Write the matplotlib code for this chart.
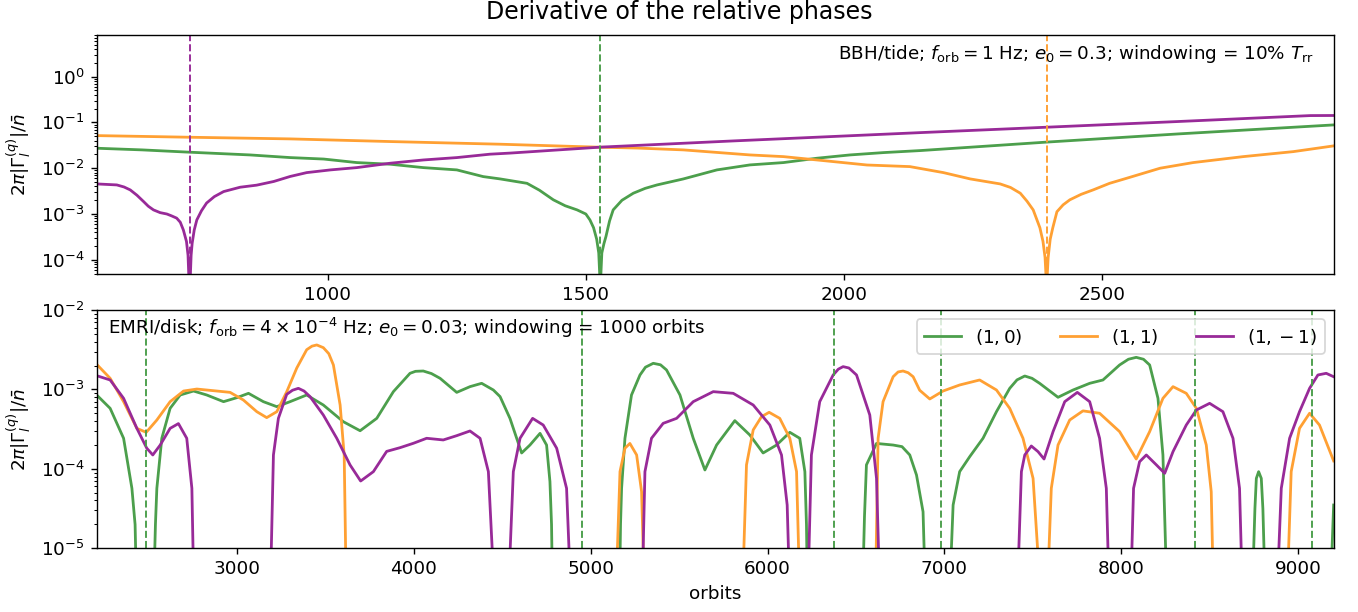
import numpy as np
import matplotlib
matplotlib.use("Agg")
import matplotlib.pyplot as plt

# ---------------- data (log10 of 2*pi*|Gamma|/n) ----------------
# Top panel: BBH/tide
top_green_x = [552, 640, 733, 849, 927, 992, 1056, 1121, 1185, 1250, 1301, 1334, 1386, 1410, 1437, 1460,
               1483, 1500, 1508, 1515, 1521, 1525, 1528, 1531, 1535, 1539, 1546, 1553, 1570, 1592, 1615,
               1638, 1689, 1754, 1818, 1883, 1948, 2012, 2077, 2148, 2393, 2650, 2949]
top_green_logy = [-1.564, -1.60, -1.651, -1.71, -1.768, -1.80, -1.877, -1.913, -1.987, -2.037, -2.183, -2.234,
                  -2.33, -2.48, -2.69, -2.82, -2.91, -3.0, -3.13, -3.3, -3.55, -3.85, -4.6, -3.85, -3.65,
                  -3.49, -3.15, -2.91, -2.70, -2.546, -2.44, -2.365, -2.234, -2.037, -1.928, -1.877, -1.782,
                  -1.71, -1.659, -1.615, -1.43, -1.25, -1.055]

top_orange_x = [552, 733, 927, 1121, 1334, 1528, 1600, 1689, 1818, 1883, 1948, 2045, 2128, 2193, 2245, 2303,
                2323, 2342, 2355, 2367, 2380, 2386, 2390, 2393, 2396, 2400, 2405, 2413, 2425, 2438, 2460,
                2484, 2515, 2548, 2613, 2677, 2774, 2871, 2949]
top_orange_logy = [-1.288, -1.324, -1.36, -1.418, -1.476, -1.542, -1.56, -1.60, -1.71, -1.747, -1.82, -1.93,
                   -1.965, -2.096, -2.234, -2.343, -2.42, -2.546, -2.72, -2.91, -3.30, -3.6, -3.95, -4.6,
                   -3.95, -3.55, -3.30, -2.95, -2.80, -2.69, -2.57, -2.47, -2.33, -2.22, -2.0, -1.877,
                   -1.747, -1.638, -1.513]

top_purple_x = [552, 591, 605, 617, 630, 643, 652, 662, 675, 688, 697, 707, 714, 720, 726, 729, 732, 735,
                737, 741, 746, 755, 765, 780, 798, 830, 862, 895, 927, 959, 1005, 1056, 1121, 1185, 1250,
                1314, 1353, 1528, 1786, 2148, 2393, 2645, 2904, 2949]
top_purple_logy = [-2.343, -2.365, -2.41, -2.474, -2.59, -2.73, -2.83, -2.91, -2.97, -3.0, -3.04, -3.09,
                   -3.18, -3.35, -3.6, -3.9, -4.8, -3.9, -3.64, -3.35, -3.13, -2.93, -2.76, -2.62, -2.51,
                   -2.415, -2.37, -2.29, -2.18, -2.096, -2.037, -1.987, -1.891, -1.82, -1.768, -1.694,
                   -1.67, -1.54, -1.404, -1.223, -1.105, -0.982, -0.851, -0.849]

top_vlines = [732, 1528, 2393]  # purple, green, orange

# Bottom panel: EMRI/disk
bot_green_x = [2208, 2284, 2360, 2407, 2425, 2431, 2533, 2540, 2548, 2576, 2623, 2680, 2755, 2830, 2925,
               3000, 3066, 3150, 3226, 3301, 3395, 3489, 3602, 3697, 3791, 3885, 3979, 4010, 4054, 4100,
               4149, 4243, 4318, 4384, 4450, 4488, 4544, 4610, 4657, 4714, 4751, 4770, 4779, 4783, 5165,
               5169, 5175, 5194, 5231, 5279, 5310, 5354, 5395, 5429, 5505, 5580, 5646, 5712, 5815, 5900,
               5975, 6051, 6126, 6182, 6211, 6220, 6224, 6540, 6548, 6559, 6616, 6710, 6760, 6804, 6842,
               6879, 6889, 7034, 7049, 7086, 7143, 7218, 7294, 7369, 7410, 7454, 7495, 7538, 7642, 7727,
               7821, 7896, 7990, 8040, 8084, 8125, 8160, 8207, 8235, 8254, 8744, 8755, 8763, 8776, 8791,
               8800, 8810, 9186, 9200]
bot_green_logy = [-3.07, -3.238, -3.615, -4.245, -4.7, -5.3, -5.3, -4.7, -4.245, -3.615, -3.238, -3.07, -3.02,
                  -3.07, -3.154, -3.104, -3.049, -3.154, -3.217, -3.154, -3.07, -3.196, -3.406, -3.52, -3.364,
                  -3.028, -2.797, -2.772, -2.768, -2.80, -2.86, -3.037, -2.965, -2.923, -3.007, -3.09, -3.364,
                  -3.80, -3.70, -3.553, -3.70, -4.16, -4.7, -5.3, -5.3, -4.7, -4.245, -3.615, -3.07, -2.818,
                  -2.72, -2.671, -2.69, -2.755, -3.07, -3.615, -4.014, -3.70, -3.393, -3.574, -3.80, -3.70,
                  -3.54, -3.615, -4.035, -4.7, -5.3, -5.3, -4.6, -3.95, -3.68, -3.70, -3.72, -3.825, -4.077,
                  -4.54, -5.3, -5.3, -4.455, -4.035, -3.846, -3.615, -3.28, -2.986, -2.88, -2.831, -2.86,
                  -2.923, -3.099, -3.007, -2.923, -2.881, -2.692, -2.62, -2.596, -2.62, -2.692, -3.112,
                  -3.825, -5.3, -5.3, -4.5, -4.12, -4.035, -4.12, -4.5, -5.3, -5.3, -4.455]

bot_orange_x = [2208, 2284, 2360, 2435, 2488, 2548, 2623, 2699, 2774, 2887, 2962, 3037, 3113, 3169, 3226,
                3282, 3339, 3395, 3425, 3452, 3489, 3520, 3546, 3584, 3607, 3617, 5147, 5166, 5194, 5222,
                5260, 5288, 5301, 5862, 5881, 5919, 5966, 6009, 6069, 6126, 6164, 6179, 6612, 6625, 6653,
                6710, 6738, 6766, 6795, 6823, 6860, 6917, 6992, 7086, 7199, 7294, 7369, 7444, 7501, 7535,
                7586, 7604, 7642, 7708, 7783, 7877, 7990, 8084, 8160, 8235, 8292, 8367, 8424, 8480, 8508,
                8518, 8941, 8960, 9007, 9064, 9120, 9200]
bot_orange_logy = [-2.684, -2.86, -3.154, -3.49, -3.54, -3.385, -3.154, -3.02, -2.995, -3.02, -3.037, -3.133,
                   -3.28, -3.355, -3.28, -3.03, -2.73, -2.50, -2.455, -2.44, -2.474, -2.55, -2.692, -3.196,
                   -3.83, -5.3, -5.3, -4.035, -3.74, -3.68, -3.825, -4.287, -5.3, -5.3, -3.95, -3.51,
                   -3.343, -3.288, -3.364, -3.615, -4.035, -5.3, -5.3, -3.615, -3.154, -2.84, -2.78, -2.768,
                   -2.79, -2.84, -3.01, -3.12, -3.02, -2.944, -2.881, -3.007, -3.238, -3.615, -4.12, -5.3,
                   -5.3, -4.245, -3.70, -3.385, -3.27, -3.30, -3.531, -3.876, -3.531, -3.112, -2.965,
                   -3.049, -3.238, -3.70, -4.287, -5.3, -5.3, -4.035, -3.49, -3.30, -3.448, -3.90]

bot_purple_x = [2208, 2284, 2360, 2435, 2491, 2525, 2567, 2623, 2670, 2717, 2746, 2755, 3192, 3207, 3235,
                3282, 3315, 3348, 3380, 3414, 3489, 3565, 3640, 3700, 3772, 3847, 3923, 3998, 4073, 4167,
                4243, 4318, 4375, 4422, 4450, 4540, 4563, 4601, 4672, 4732, 4808, 4864, 4883, 5294, 5307,
                5344, 5410, 5486, 5580, 5693, 5806, 5919, 6013, 6079, 6111, 6122, 6231, 6248, 6295, 6371,
                6400, 6427, 6460, 6503, 6578, 6616, 6631, 7416, 7435, 7454, 7491, 7529, 7563, 7614, 7680,
                7751, 7821, 7877, 7915, 7928, 8056, 8069, 8103, 8141, 8198, 8245, 8292, 8367, 8424, 8499,
                8574, 8631, 8668, 8681, 8885, 8904, 8951, 9007, 9064, 9111, 9158, 9200]
bot_purple_logy = [-2.827, -2.881, -3.112, -3.49, -3.74, -3.825, -3.70, -3.49, -3.43, -3.615, -4.245, -5.3,
                   -5.3, -3.825, -3.364, -3.062, -3.01, -2.986, -3.02, -3.091, -3.322, -3.615, -3.95, -4.153,
                   -4.035, -3.78, -3.733, -3.678, -3.615, -3.636, -3.582, -3.523, -3.615, -4.035, -5.3, -5.3,
                   -4.035, -3.615, -3.364, -3.448, -3.74, -4.245, -5.3, -5.3, -4.035, -3.615, -3.427, -3.364,
                   -3.154, -3.028, -3.049, -3.196, -3.448, -3.825, -4.455, -5.3, -5.3, -3.825, -3.154,
                   -2.818, -2.745, -2.713, -2.73, -2.818, -3.322, -4.12, -5.3, -5.3, -4.035, -3.825, -3.712,
                   -3.783, -3.876, -3.531, -3.154, -3.037, -3.154, -3.615, -4.245, -5.3, -5.3, -4.245,
                   -3.91, -3.825, -3.95, -4.056, -3.783, -3.448, -3.259, -3.175, -3.28, -3.615, -4.245,
                   -5.3, -5.3, -4.245, -3.615, -3.28, -2.986, -2.818, -2.797, -2.84]

bot_vlines = [2486, 4951, 6377, 6981, 8418, 9079]

labels = ["$(1, 0)$", "$(1, 1)$", "$(1, -1)$"]
GREEN, ORANGE, PURPLE = "#4c9f4c", "#ffa033", "#982a98"

# ---------------- figure ----------------
plt.rcParams["font.size"] = 10.6
fig = plt.figure(figsize=(1358 / 125, 612 / 125), dpi=125)
ax1 = fig.add_axes([96.7 / 1358, 1 - 274 / 612, (1334 - 96.7) / 1358, 239 / 612])
ax2 = fig.add_axes([96.7 / 1358, 1 - 548.3 / 612, (1334 - 96.7) / 1358, 238.3 / 612])

lw = 1.6
ax1.semilogy(top_green_x, 10 ** np.array(top_green_logy), color=GREEN, lw=lw)
ax1.semilogy(top_orange_x, 10 ** np.array(top_orange_logy), color=ORANGE, lw=lw)
ax1.semilogy(top_purple_x, 10 ** np.array(top_purple_logy), color=PURPLE, lw=lw)
for xv, c in zip(top_vlines, [PURPLE, GREEN, ORANGE]):
    ax1.axvline(xv, color=c, ls="--", lw=1.1)
ax1.set_xlim(552, 2950)
ax1.set_ylim(4.9e-5, 8.1)
ax1.set_xticks([1000, 1500, 2000, 2500])
ax1.set_ylabel(r"$2\pi|\Gamma_l^{(q)}|/\bar{n}$")
ax1.text(0.984, 0.92, r"BBH/tide; $f_{\rm orb} = 1$ Hz; $e_0 = 0.3$; windowing = 10% $T_{\rm rr}$",
         transform=ax1.transAxes, ha="right", va="center")

ax2.semilogy(bot_green_x, 10 ** np.array(bot_green_logy), color=GREEN, lw=lw, label=labels[0])
ax2.semilogy(bot_orange_x, 10 ** np.array(bot_orange_logy), color=ORANGE, lw=lw, label=labels[1])
ax2.semilogy(bot_purple_x, 10 ** np.array(bot_purple_logy), color=PURPLE, lw=lw, label=labels[2])
for xv in bot_vlines:
    ax2.axvline(xv, color=GREEN, ls="--", lw=1.1)
ax2.set_xlim(2208, 9202)
ax2.set_ylim(1e-5, 1e-2)
ax2.set_xlabel("orbits")
ax2.set_ylabel(r"$2\pi|\Gamma_l^{(q)}|/\bar{n}$")
ax2.legend(loc="upper right", ncol=3)
ax2.text(0.0094, 0.923,
         r"EMRI/disk; $f_{\rm orb} = 4\times10^{-4}$ Hz; $e_0 = 0.03$; windowing = 1000 orbits",
         transform=ax2.transAxes, ha="left", va="center")

fig.suptitle("Derivative of the relative phases", y=1 - 12 / 612, va="center", fontsize=13.6)

fig.savefig("out.png", dpi=125)
